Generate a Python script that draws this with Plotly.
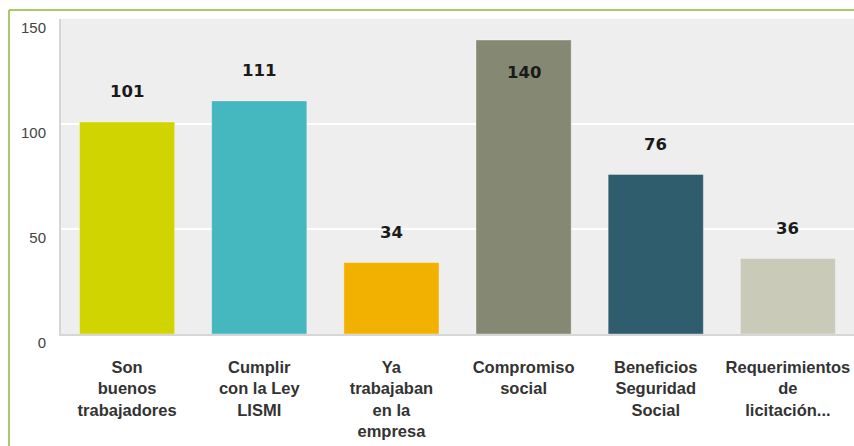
import plotly.graph_objects as go

categories = [
    "Son<br>buenos<br>trabajadores",
    "Cumplir<br>con la Ley<br>LISMI",
    "Ya<br>trabajaban<br>en la<br>empresa",
    "Compromiso<br>social",
    "Beneficios<br>Seguridad<br>Social",
    "Requerimientos<br>de<br>licitación...",
]
values = [101, 111, 34, 140, 76, 36]
colors = ["#d0d400", "#45b7bf", "#f2b100", "#858872", "#2f5d6d", "#c9cbb8"]
y_ticks = [0, 50, 100, 150]

W, H = 854, 446
L, R, T, B = 61, 0, 19, 112
pw, ph = W - L - R, H - T - B

fig = go.Figure()
fig.add_trace(go.Bar(
    x=categories, y=values,
    marker=dict(color=colors, line=dict(color="rgba(255,255,255,0.35)", width=1)),
    width=0.72,
    hoverinfo="skip",
))

ymax = 150
for c, v in zip(categories, values):
    inside = v > ymax - 15
    fig.add_annotation(
        x=c, y=v, xref="x", yref="y",
        text="<b>%d</b>" % v, showarrow=False,
        yanchor="middle", yshift=-32 if inside else 30,
        font=dict(family="DejaVu Sans", size=16.5, color="#1a1a1a"),
    )

# light green frame (top and left)
def px2x(p):
    return (p - L) / pw

def py2y(p):
    return (H - B - p) / ph

fig.add_shape(type="line", xref="paper", yref="paper",
              x0=px2x(9), x1=px2x(W + 5), y0=py2y(10), y1=py2y(10),
              line=dict(color="#a9c86a", width=2))
fig.add_shape(type="line", xref="paper", yref="paper",
              x0=px2x(9), x1=px2x(9), y0=py2y(10), y1=py2y(H + 5),
              line=dict(color="#a9c86a", width=2))

fig.update_layout(
    width=W, height=H,
    margin=dict(l=L, r=R, t=T, b=B, pad=0, autoexpand=False),
    paper_bgcolor="white", plot_bgcolor="#eeeeee",
    showlegend=False,
    bargap=0.28,
    xaxis=dict(
        showgrid=False, showline=True, linecolor="#d6d6d6", linewidth=2,
        tickfont=dict(family="Liberation Sans", size=16.5, color="#333333", weight="bold"),
        ticklabelstandoff=17, automargin=False,
        fixedrange=True,
    ),
    yaxis=dict(
        range=[0, ymax], tickvals=y_ticks,
        showgrid=True, gridcolor="white", gridwidth=2,
        showline=True, linecolor="#d6d6d6", linewidth=2,
        zeroline=False, automargin=False,
        tickfont=dict(family="Liberation Sans", size=15, color="#444444"),
        ticklabelstandoff=10, ticklabelshift=9,
        fixedrange=True,
    ),
)

fig.write_html(
    "out.html",
    config={"displayModeBar": False},
    post_script="document.body.style.margin='0';document.body.style.overflow='hidden';",
)
